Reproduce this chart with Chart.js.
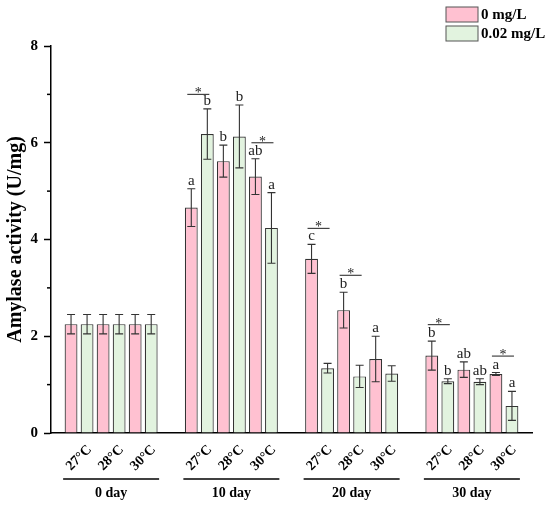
<!DOCTYPE html>
<html>
<head>
<meta charset="utf-8">
<script src="https://cdn.jsdelivr.net/npm/chart.js@4/dist/chart.umd.min.js"></script>
<style>
body { margin: 0; background: #fff; }
#wrap { width: 550px; height: 505px; }
</style>
</head>
<body>
<div id="wrap"><canvas id="chart"></canvas></div>
<script>
const days = ['0 day', '10 day', '20 day', '30 day'];
const temps = ['27°C', '28°C', '30°C'];
const concs = ['0 mg/L', '0.02 mg/L'];

// means per temperature, one value per day
const ctrl27 = [2.25, 4.66, 3.60, 1.60];
const trt27 = [2.25, 6.18, 1.34, 1.07];
const ctrl28 = [2.25, 5.62, 2.54, 1.31];
const trt28 = [2.25, 6.13, 1.17, 1.06];
const ctrl30 = [2.25, 5.30, 1.53, 1.22];
const trt30 = [2.25, 4.24, 1.23, 0.56];

// standard deviations
const ctrl27Err = [0.20, 0.39, 0.30, 0.30];
const trt27Err = [0.20, 0.52, 0.10, 0.05];
const ctrl28Err = [0.20, 0.33, 0.37, 0.16];
const trt28Err = [0.20, 0.65, 0.23, 0.06];
const ctrl30Err = [0.20, 0.37, 0.47, 0.03];
const trt30Err = [0.20, 0.73, 0.16, 0.30];

// letters above the bars
const ctrl27Lab = ['', 'a', 'c', 'b'];
const trt27Lab = ['', 'b', '', 'b'];
const ctrl28Lab = ['', 'b', 'b', 'ab'];
const trt28Lab = ['', 'b', '', 'ab'];
const ctrl30Lab = ['', 'ab', 'a', 'a'];
const trt30Lab = ['', 'a', '', 'a'];

// significance marks (*) between the two concentrations
const starDay = [1, 1, 2, 2, 3, 3];
const starTemp = [0, 2, 0, 1, 0, 2];
const starY = [7.0, 6.0, 4.23, 3.26, 2.24, 1.59];

const FONT = "'Times New Roman', 'Liberation Serif', serif";
const pink = '#FFC1D1';
const green = '#E2F3DF';
const edge = '#333';

const means = [ctrl27, trt27, ctrl28, trt28, ctrl30, trt30];
const errs = [ctrl27Err, trt27Err, ctrl28Err, trt28Err, ctrl30Err, trt30Err];
const letters = [ctrl27Lab, trt27Lab, ctrl28Lab, trt28Lab, ctrl30Lab, trt30Lab];

const datasets = means.map((m, i) => ({
	label: concs[i % 2] + ' ' + temps[Math.floor(i / 2)],
	data: m,
	backgroundColor: i % 2 ? green : pink,
	borderColor: edge,
	borderWidth: 1.2,
}));

const extras = {
	id: 'extras',
	afterDatasetsDraw: chart => {
		const ctx = chart.ctx;
		const xs = chart.scales.x;
		const ys = chart.scales.y;
		const area = chart.chartArea;
		ctx.save();

		// error bars and letters
		ctx.strokeStyle = '#333';
		ctx.lineWidth = 1.1;
		ctx.textAlign = 'center';
		ctx.textBaseline = 'alphabetic';
		means.forEach((m, i) => {
			chart.getDatasetMeta(i).data.forEach((bar, j) => {
				const top = ys.getPixelForValue(m[j] + errs[i][j]);
				const bot = ys.getPixelForValue(m[j] - errs[i][j]);
				ctx.beginPath();
				ctx.moveTo(bar.x, top);
				ctx.lineTo(bar.x, bot);
				ctx.moveTo(bar.x - 4, top);
				ctx.lineTo(bar.x + 4, top);
				ctx.moveTo(bar.x - 4, bot);
				ctx.lineTo(bar.x + 4, bot);
				ctx.stroke();
				if (letters[i][j]) {
					ctx.fillStyle = '#222';
					ctx.font = '15px ' + FONT;
					ctx.fillText(letters[i][j], bar.x, top - 4);
				}
			});
		});

		// significance lines
		ctx.font = '14px ' + FONT;
		starDay.forEach((d, k) => {
			const a = chart.getDatasetMeta(starTemp[k] * 2).data[d];
			const b = chart.getDatasetMeta(starTemp[k] * 2 + 1).data[d];
			const ly = ys.getPixelForValue(starY[k]);
			const x0 = a.x - 4, x1 = b.x + 2;
			ctx.beginPath();
			ctx.moveTo(x0, ly);
			ctx.lineTo(x1, ly);
			ctx.stroke();
			ctx.fillText('*', (x0 + x1) / 2, ly + 3);
		});

		// minor ticks on the y axis
		ctx.strokeStyle = '#000';
		ctx.lineWidth = 1.5;
		[1, 3, 5, 7].forEach(v => {
			const py = ys.getPixelForValue(v);
			ctx.beginPath();
			ctx.moveTo(area.left - 4, py);
			ctx.lineTo(area.left, py);
			ctx.stroke();
		});

		// temperature labels, group lines, day labels
		ctx.fillStyle = '#000';
		days.forEach((day, j) => {
			temps.forEach((t, ti) => {
				const a = chart.getDatasetMeta(ti * 2).data[j];
				const b = chart.getDatasetMeta(ti * 2 + 1).data[j];
				ctx.save();
				ctx.translate((a.x + b.x) / 2, area.bottom + 25);
				ctx.rotate(-Math.PI / 4);
				ctx.font = 'bold 14px ' + FONT;
				ctx.textBaseline = 'middle';
				ctx.fillText(t, 0, 0);
				ctx.restore();
			});
			const first = chart.getDatasetMeta(0).data[j];
			const last = chart.getDatasetMeta(5).data[j];
			ctx.beginPath();
			ctx.moveTo(first.x - first.width / 2 - 1.5, area.bottom + 46);
			ctx.lineTo(last.x + last.width / 2 + 1.5, area.bottom + 46);
			ctx.stroke();
			ctx.font = 'bold 14px ' + FONT;
			ctx.textBaseline = 'middle';
			ctx.fillText(day, xs.getPixelForValue(j), area.bottom + 60);
		});

		// legend
		ctx.textAlign = 'left';
		ctx.font = 'bold 15px ' + FONT;
		ctx.lineWidth = 1;
		concs.forEach((c, i) => {
			const by = 7 + i * 19;
			ctx.fillStyle = i ? green : pink;
			ctx.fillRect(446, by, 32, 15);
			ctx.strokeStyle = '#555';
			ctx.strokeRect(446, by, 32, 15);
			ctx.fillStyle = '#000';
			ctx.fillText(c, 481, by + 8);
		});
		ctx.restore();
	}
};

new Chart(document.getElementById('chart'), {
	type: 'bar',
	data: {
		labels: days,
		datasets: datasets,
	},
	plugins: [extras],
	options: {
		responsive: true,
		maintainAspectRatio: false,
		animation: false,
		layout: {
			padding: {top: 46, right: 18, left: 0, bottom: 0},
		},
		datasets: {
			bar: {
				categoryPercentage: 0.8,
				barPercentage: 0.8,
			},
		},
		plugins: {
			legend: {display: false},
			tooltip: {enabled: false},
		},
		scales: {
			x: {
				ticks: {display: false},
				grid: {display: true, drawOnChartArea: false, drawTicks: false},
				border: {color: '#000', width: 1.5},
				afterFit: s => { s.height = 72; },
			},
			y: {
				min: 0,
				max: 8,
				ticks: {
					stepSize: 2,
					color: '#000',
					padding: 6,
					font: {family: FONT, size: 15, weight: 'bold'},
				},
				grid: {drawOnChartArea: false, tickLength: 7, tickColor: '#000', tickWidth: 1.5},
				border: {color: '#000', width: 1.5},
				title: {
					display: true,
					text: 'Amylase activity (U/mg)',
					color: '#000',
					font: {family: FONT, size: 20, weight: 'bold'},
					padding: {top: 4, bottom: 0},
				},
				afterFit: s => { s.width = 51; },
			},
		},
	},
});
</script>
</body>
</html>
